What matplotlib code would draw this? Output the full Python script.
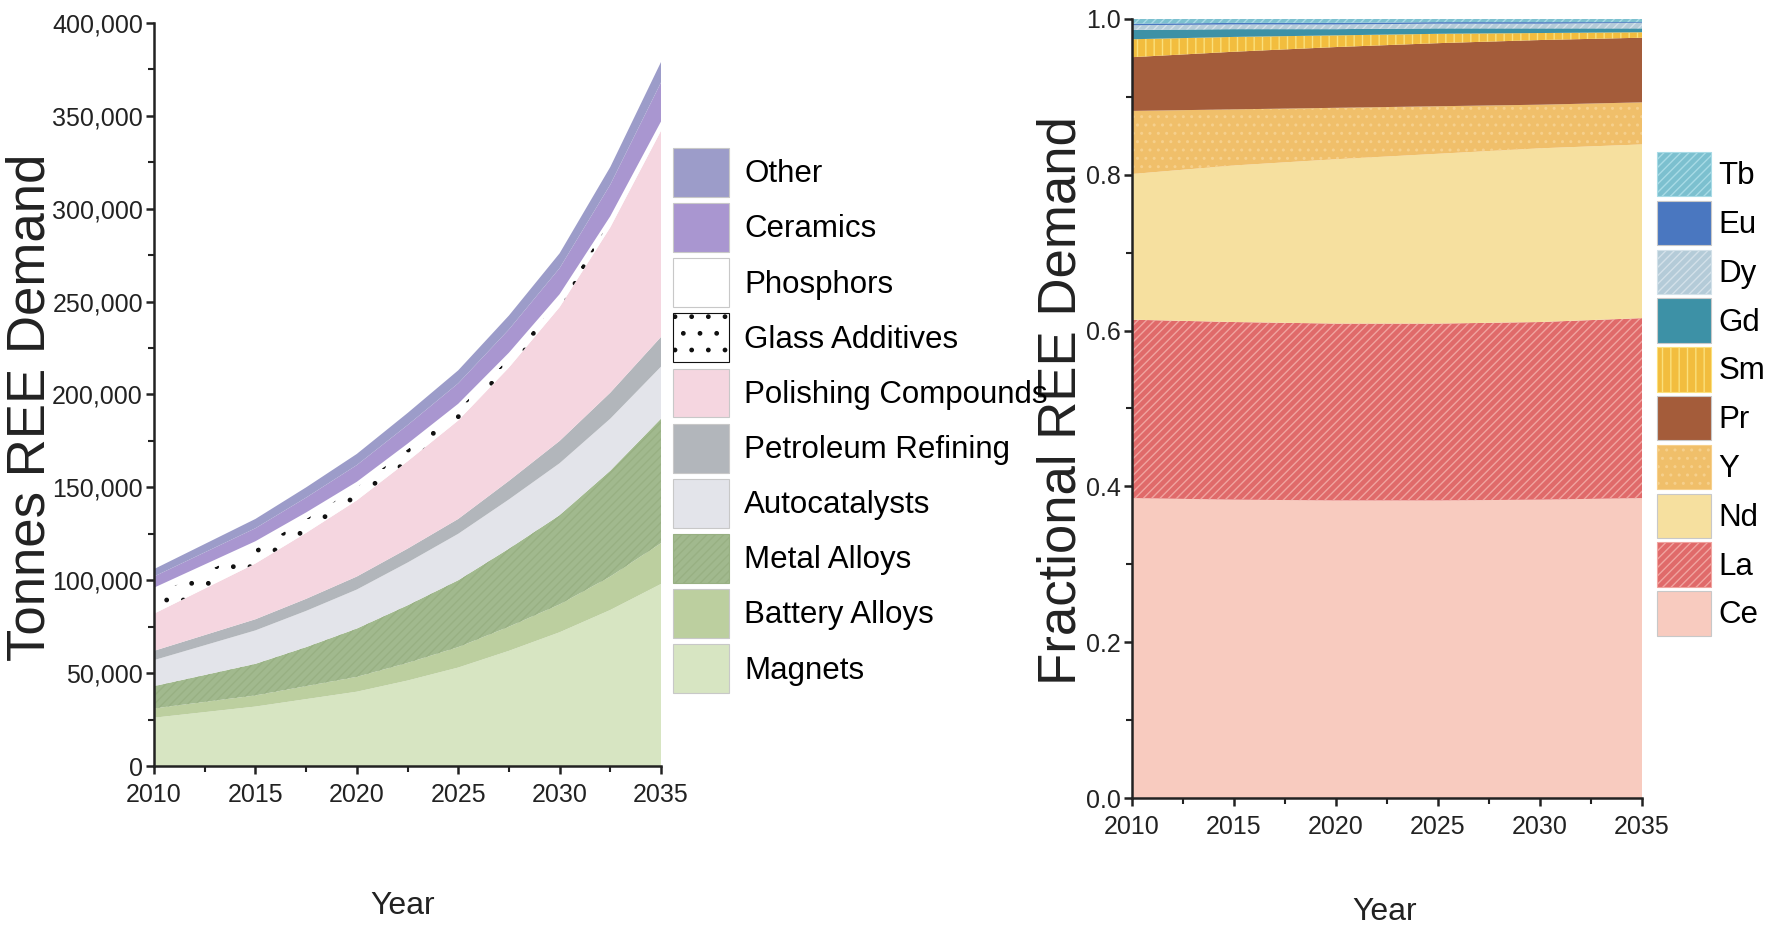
import matplotlib.pyplot as plt
import numpy as np
from matplotlib.patches import Patch
from matplotlib.ticker import MultipleLocator, FuncFormatter

plt.rcParams['font.family'] = ['Liberation Sans', 'DejaVu Sans']
plt.rcParams['hatch.linewidth'] = 1.0

# left panel: tonnes REE demand by application (bottom -> top), every 2.5 years
years_l = [2010, 2012.5, 2015, 2017.5, 2020, 2022.5, 2025, 2027.5, 2030, 2032.5, 2035]
magnets = [26000, 29000, 32000, 36000, 40000, 46000, 53000, 62000, 72000, 84000, 98000]
battery_alloys = [5000, 5500, 6000, 7000, 8000, 9500, 11000, 13000, 15000, 18000, 22000]
metal_alloys = [12000, 14500, 17000, 21000, 26000, 31000, 36000, 42000, 48000, 57000, 67000]
autocatalysts = [14000, 16000, 18000, 19500, 21000, 23000, 25000, 26500, 28000, 28000, 28000]
petroleum = [5000, 5500, 6000, 6500, 7000, 7500, 8000, 10000, 12000, 14000, 16000]
polishing = [20000, 25000, 30000, 35500, 41000, 47000, 53000, 61000, 72000, 89000, 111000]
glass = [10000, 9000, 8000, 7500, 7000, 6500, 6000, 5000, 4000, 3500, 3000]
phosphors = [4000, 4000, 4000, 3500, 3000, 3000, 3000, 3000, 3000, 2500, 2000]
ceramics = [6000, 6500, 7000, 8000, 9000, 10000, 11000, 12500, 14000, 17000, 21000]
other = [4000, 4500, 5000, 5500, 6000, 6500, 7000, 7500, 8000, 9500, 11000]

app_names = ['Magnets', 'Battery Alloys', 'Metal Alloys', 'Autocatalysts',
             'Petroleum Refining', 'Polishing Compounds', 'Glass Additives',
             'Phosphors', 'Ceramics', 'Other']
app_values = [magnets, battery_alloys, metal_alloys, autocatalysts, petroleum,
              polishing, glass, phosphors, ceramics, other]
app_colors = ['#d7e5c2', '#bccf9f', '#a1b98e', '#e3e4ea', '#b2b6bb',
              '#f5d6e0', '#ffffff', '#ffffff', '#a996d0', '#9c9cc9']
app_hatch = [None, None, '////', None, None, None, '.', None, None, None]
app_hatchcol = ['#d7e5c2', '#bccf9f', '#98b083', '#e3e4ea', '#b2b6bb',
                '#f5d6e0', '#111111', '#ffffff', '#a996d0', '#9c9cc9']

# right panel: fractional REE demand by element (bottom -> top)
years_r = [2010, 2015, 2020, 2025, 2030, 2035]
ce = [0.385, 0.383, 0.382, 0.382, 0.383, 0.385]
la = [0.229, 0.228, 0.227, 0.227, 0.228, 0.231]
nd = [0.187, 0.201, 0.211, 0.218, 0.223, 0.223]
y_el = [0.081, 0.072, 0.066, 0.061, 0.056, 0.054]
pr = [0.069, 0.074, 0.078, 0.081, 0.083, 0.083]
sm = [0.023, 0.019, 0.015, 0.012, 0.009, 0.007]
gd = [0.012, 0.010, 0.008, 0.007, 0.006, 0.005]
dy = [0.006, 0.006, 0.006, 0.006, 0.006, 0.007]
eu = [0.002, 0.002, 0.002, 0.002, 0.002, 0.001]
tb = [0.006, 0.005, 0.005, 0.004, 0.004, 0.004]

el_names = ['Ce', 'La', 'Nd', 'Y', 'Pr', 'Sm', 'Gd', 'Dy', 'Eu', 'Tb']
el_values = [ce, la, nd, y_el, pr, sm, gd, dy, eu, tb]
el_colors = ['#f8cbbf', '#e06a6a', '#f6e09f', '#f0bf6a', '#a45c3a',
             '#f2bd3e', '#3d91a6', '#b4cbd8', '#4a77c0', '#7cc0cf']
el_hatch = [None, '////', None, '..', None, '||', None, '////', None, '////']
el_hatchcol = ['#f8cbbf', '#f0a4a0', '#f6e09f', '#f6d08c', '#a45c3a',
               '#fbe07c', '#3d91a6', '#d3e1e9', '#4a77c0', '#a8dbe6']

TXT = '#222222'


def draw_stack(ax, x, values, colors, hatches, hatchcols):
    polys = ax.stackplot(x, *values, colors=colors, linewidth=0)
    for poly, h, hc in zip(polys, hatches, hatchcols):
        if h:
            poly.set_hatch(h)
            poly.set_edgecolor(hc)
            poly.set_linewidth(0)


def style_axes(ax):
    for s in ['top', 'right']:
        ax.spines[s].set_visible(False)
    for s in ['left', 'bottom']:
        ax.spines[s].set_linewidth(1.8)
        ax.spines[s].set_color(TXT)
    ax.set_xlim(2010, 2035)
    ax.xaxis.set_major_locator(MultipleLocator(5))
    ax.xaxis.set_minor_locator(MultipleLocator(2.5))
    ax.tick_params(which='major', direction='out', length=5.5, width=1.8,
                   labelsize=18, colors=TXT)
    ax.tick_params(which='minor', direction='out', length=4, width=1.5,
                   colors=TXT)
    ax.tick_params(axis='x', which='major', pad=6.8)
    ax.tick_params(axis='y', which='major', pad=2.5)
    ax.set_xlabel('Year', fontsize=23, color=TXT, va='center')


fig = plt.figure(figsize=(17.87, 9.25), dpi=100)

# ---- left panel
ax1 = fig.add_axes([154 / 1787, 1 - 766 / 925, 507 / 1787, 743 / 925])
draw_stack(ax1, years_l, app_values, app_colors, app_hatch, app_hatchcol)
style_axes(ax1)
ax1.set_ylim(0, 400000)
ax1.yaxis.set_major_locator(MultipleLocator(50000))
ax1.yaxis.set_minor_locator(MultipleLocator(25000))
ax1.yaxis.set_major_formatter(FuncFormatter(lambda v, p: f'{v:,.0f}'))
ax1.set_ylabel('Tonnes REE Demand', fontsize=38, color=TXT)
ax1.yaxis.set_label_coords(-0.195, 0.483)
ax1.xaxis.set_label_coords(0.49, -0.188)

handles1 = [Patch(facecolor=c, edgecolor=hc if h else '#c8c8c8', hatch=h, linewidth=0.8)
            for c, h, hc in zip(app_colors, app_hatch, app_hatchcol)][::-1]
fig.legend(handles1, app_names[::-1], loc='upper left',
           bbox_to_anchor=(673 / 1787, 1 - 148 / 925), frameon=False,
           fontsize=22.5, handlelength=1.78, handleheight=2.03, labelspacing=0.2,
           handletextpad=0.5, borderpad=0, borderaxespad=0)

# ---- right panel
ax2 = fig.add_axes([1132 / 1787, 1 - 798 / 925, 510 / 1787, 779 / 925])
draw_stack(ax2, years_r, el_values, el_colors, el_hatch, el_hatchcol)
style_axes(ax2)
ax2.set_ylim(0, 1.0)
ax2.yaxis.set_major_locator(MultipleLocator(0.2))
ax2.yaxis.set_minor_locator(MultipleLocator(0.1))
ax2.yaxis.set_major_formatter(FuncFormatter(lambda v, p: f'{v:.1f}'))
ax2.set_ylabel('Fractional REE Demand', fontsize=38, color=TXT)
ax2.yaxis.set_label_coords(-0.09, 0.51)
ax2.xaxis.set_label_coords(0.496, -0.146)

handles2 = [Patch(facecolor=c, edgecolor=hc if h else '#c8c8c8', hatch=h, linewidth=0.8)
            for c, h, hc in zip(el_colors, el_hatch, el_hatchcol)][::-1]
fig.legend(handles2, el_names[::-1], loc='upper left',
           bbox_to_anchor=(1657 / 1787, 1 - 152 / 925), frameon=False,
           fontsize=22.5, handlelength=1.72, handleheight=1.81, labelspacing=0.14,
           handletextpad=0.25, borderpad=0, borderaxespad=0)

fig.savefig('out.png', dpi=100)
